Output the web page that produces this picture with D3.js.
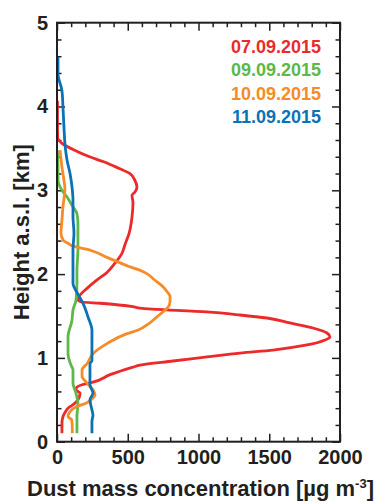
<!DOCTYPE html>
<html>
<head>
<meta charset="utf-8">
<script src="https://cdn.jsdelivr.net/npm/d3@7"></script>
<style>
  body { margin: 0; background: #fff; }
  text { font-family: "Liberation Sans", Arial, sans-serif; font-weight: bold; fill: #231f20; }
</style>
</head>
<body>
<svg id="chart" width="377" height="502"></svg>
<script>
// Dust mass concentration profiles (µg m-3) against height a.s.l. (km)
const dates = ["07.09.2015", "09.09.2015", "10.09.2015", "11.09.2015"];
const colors = ["#ec2a2a", "#5cb848", "#f68b28", "#0b72b6"];

const h0709 = [0.10, 0.22, 0.30, 0.35, 0.40, 0.46, 0.52, 0.58, 0.62, 0.65, 0.68, 0.71, 0.80, 0.89, 0.915, 0.963, 1.011, 1.058, 1.094, 1.154, 1.214, 1.249, 1.297, 1.357, 1.417, 1.476, 1.512, 1.548, 1.595, 1.611, 1.652, 1.667, 1.69, 1.75, 1.83, 1.93, 2.02, 2.13, 2.25, 2.35, 2.49, 2.68, 2.85, 2.94, 2.98, 3.04, 3.12, 3.20, 3.26, 3.34, 3.40, 3.49, 3.56, 3.63, 3.80, 4.07];
const c0709 = [35, 35, 42, 57, 78, 127, 155, 163, 134, 141, 177, 254, 375, 537, 587, 820, 1060, 1293, 1527, 1767, 1894, 1929, 1908, 1809, 1647, 1484, 1293, 1060, 587, 537, 304, 177, 148, 163, 212, 283, 353, 410, 460, 480, 510, 530, 537, 530, 551, 565, 550, 516, 440, 330, 230, 110, 35, 5, 3, 3];

const h0909 = [0.10, 0.30, 0.46, 0.58, 0.70, 0.86, 0.91, 1.05, 1.13, 1.25, 1.45, 1.57, 1.69, 1.89, 2.05, 2.29, 2.40, 2.60, 2.72, 2.82, 2.92, 3.00, 3.12, 3.28, 3.48];
const c0909 = [141, 141, 148, 134, 113, 113, 100, 78, 78, 78, 106, 113, 134, 141, 141, 148, 148, 148, 141, 106, 71, 35, 7, 7, 2];

const h1009 = [0.10, 0.18, 0.26, 0.30, 0.36, 0.42, 0.46, 0.50, 0.56, 0.62, 0.70, 0.78, 0.86, 0.93, 1.05, 1.17, 1.29, 1.33, 1.41, 1.48, 1.55, 1.59, 1.67, 1.73, 1.79, 1.85, 1.93, 2.00, 2.05, 2.09, 2.15, 2.20, 2.27, 2.30, 2.33, 2.37, 2.40, 2.49, 2.64, 2.80, 3.02, 3.12, 3.28, 3.48];
const c1009 = [108, 108, 104, 78, 92, 140, 205, 240, 269, 254, 212, 177, 177, 212, 254, 353, 495, 570, 650, 700, 749, 777, 799, 799, 778, 749, 690, 640, 580, 510, 424, 353, 260, 200, 120, 75, 45, 28, 35, 42, 56, 49, 35, 21];

const h1109 = [0.10, 0.24, 0.32, 0.38, 0.50, 0.58, 0.68, 0.77, 0.93, 0.97, 1.13, 1.33, 1.49, 1.65, 1.77, 1.89, 2.05, 2.29, 2.49, 2.68, 2.88, 3.04, 3.20, 3.36, 3.56, 3.76, 4.00, 4.19, 4.39, 4.59];
const c1109 = [247, 247, 254, 247, 233, 254, 233, 233, 233, 247, 247, 247, 219, 184, 145, 113, 113, 113, 120, 113, 113, 106, 92, 71, 56, 49, 42, 35, 7, 7];

const heights = [h0709, h0909, h1009, h1109];
const concs = [c0709, c0909, c1009, c1109];

const xMajor = [0, 500, 1000, 1500, 2000];
const yMajor = [0, 1, 2, 3, 4, 5];

const svg = d3.select("#chart");
const plot = { left: 57, right: 340, top: 22.7, bottom: 441.7 };

const x = d3.scaleLinear().domain([0, 2000]).range([plot.left, plot.right]);
const y = d3.scaleLinear().domain([0, 5]).range([plot.bottom, plot.top]);

const xMinor = d3.range(0, 2001, 100).filter(v => v % 500 !== 0);
const yMinor = d3.range(0, 5.001, 0.2).map(v => +v.toFixed(1)).filter(v => Math.abs(v - Math.round(v)) > 1e-6);

function tickLayer(axis, transform) {
  const g = svg.append("g").attr("transform", transform).call(axis);
  g.select(".domain").remove();
  g.selectAll(".tick line").attr("stroke", "#231f20").attr("stroke-width", 1.5);
  g.selectAll(".tick text").attr("fill", "#231f20").style("font-size", "20px")
    .attr("font-family", null);
  return g;
}

// Inward ticks on all four sides
tickLayer(d3.axisBottom(x).tickValues(xMajor).tickSize(-8).tickPadding(8).tickFormat(d3.format("d")), `translate(0,${plot.bottom})`);
tickLayer(d3.axisBottom(x).tickValues(xMinor).tickSize(-4.5).tickFormat(""), `translate(0,${plot.bottom})`);
tickLayer(d3.axisTop(x).tickValues(xMajor).tickSize(-8).tickFormat(""), `translate(0,${plot.top})`);
tickLayer(d3.axisTop(x).tickValues(xMinor).tickSize(-4.5).tickFormat(""), `translate(0,${plot.top})`);
tickLayer(d3.axisLeft(y).tickValues(yMajor).tickSize(-8).tickPadding(9).tickFormat(d3.format("d")), `translate(${plot.left},0)`);
tickLayer(d3.axisLeft(y).tickValues(yMinor).tickSize(-4.5).tickFormat(""), `translate(${plot.left},0)`);
tickLayer(d3.axisRight(y).tickValues(yMajor).tickSize(-8).tickFormat(""), `translate(${plot.right},0)`);
tickLayer(d3.axisRight(y).tickValues(yMinor).tickSize(-4.5).tickFormat(""), `translate(${plot.right},0)`);

// Profiles
const line = d3.line()
  .x(d => x(d[1]))
  .y(d => y(d[0]))
  .curve(d3.curveMonotoneY);

dates.forEach((date, i) => {
  const pts = heights[i].map((hv, k) => [hv, concs[i][k]]);
  svg.append("path")
    .datum(pts)
    .attr("fill", "none")
    .attr("stroke", colors[i])
    .attr("stroke-width", 2.8)
    .attr("stroke-linejoin", "round")
    .attr("d", line);
});

// Frame
svg.append("rect")
  .attr("x", plot.left).attr("y", plot.top)
  .attr("width", plot.right - plot.left).attr("height", plot.bottom - plot.top)
  .attr("fill", "none").attr("stroke", "#231f20").attr("stroke-width", 2);

// Legend
dates.forEach((date, i) => {
  svg.append("text")
    .attr("x", 321).attr("y", 52.5 + i * 23.5)
    .attr("text-anchor", "end")
    .style("font-size", "18px")
    .style("fill", colors[i])
    .text(date);
});

// Axis titles
const xt = svg.append("text")
  .attr("x", 27).attr("y", 496)
  .style("font-size", "22px");
xt.append("tspan").text("Dust mass concentration [µg m");
xt.append("tspan").attr("dy", -8).style("font-size", "13px").text("-3");
xt.append("tspan").attr("dy", 8).text("]");

svg.append("text")
  .attr("transform", `translate(29,${(plot.top + plot.bottom) / 2}) rotate(-90)`)
  .attr("text-anchor", "middle")
  .style("font-size", "22px")
  .text("Height a.s.l. [km]");
</script>
</body>
</html>
